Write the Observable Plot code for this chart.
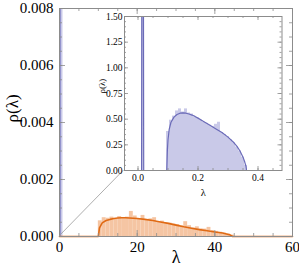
<!DOCTYPE html>
<html><head><meta charset="utf-8">
<script src="https://cdn.jsdelivr.net/npm/d3@7"></script>
<script src="https://cdn.jsdelivr.net/npm/@observablehq/plot@0.6"></script>
<style>
html,body{margin:0;padding:0;background:#fff;}
#wrap{position:relative;width:299px;height:269px;overflow:hidden;}
#wrap svg{position:absolute;overflow:visible;font-family:"Liberation Serif","DejaVu Serif",serif !important;}
#wrap svg text{font-family:"Liberation Serif","DejaVu Serif",serif !important;}
</style></head>
<body><div id="wrap"></div>
<script>
// ---- main plot data ----
const xMajor = [0, 20, 40, 60];
const yMajor = [0, 0.002, 0.004, 0.006, 0.008];
const orangeBinStart = [10,11,12,13,14,15,16,17,18,19,20,21,22,23,24,25,26,27,28,29,30,31,32,33,34,35,36,37,38,39,40,41,42,43,44];
const orangeBinValue = [0.00055,0.00066,0.00064,0.00068,0.00061,0.00070,0.00063,0.00068,0.00088,0.00072,0.00060,0.00074,0.00058,0.00062,0.00066,0.00050,0.00054,0.00048,0.00047,0.00044,0.00042,0.00037,0.00052,0.00038,0.00030,0.00034,0.00027,0.00026,0.00032,0.00021,0.00018,0.00015,0.00012,0.00009,0.00005];
const orangeCurveX = [0,10,10.3,11,12,13,14,15,16,17,18,20,22,24,26,28,30,32,34,36,38,40,42,43,44,44.6,60];
const orangeCurveY = [0,0,0.0003,0.00048,0.00056,0.0006,0.00063,0.00065,0.00066,0.00066,0.00065,0.00063,0.0006,0.00056,0.00051,0.00046,0.0004,0.00034,0.00029,0.00024,0.0002,0.00016,0.00012,0.00009,0.00005,0,0];
const mainSpikeX = [0, 0.9];      // blue spike band near λ = 0
const mainSpikeLineX = [0.1, 0.4];

// ---- inset data ----
const insetXMajor = [0, 0.2, 0.4];
const insetYMajor = [0, 0.25, 0.5, 0.75, 1.0, 1.25, 1.5];
const blueBinStart = [0.095,0.105,0.115,0.125,0.135,0.145,0.155,0.165,0.175,0.185,0.195,0.205,0.215,0.225,0.235,0.245,0.255,0.265,0.275,0.285,0.295,0.305,0.315,0.325,0.335,0.345,0.355];
const blueBinValue = [0.38,0.49,0.53,0.58,0.60,0.57,0.60,0.56,0.55,0.52,0.51,0.49,0.47,0.46,0.44,0.43,0.45,0.47,0.37,0.35,0.33,0.30,0.27,0.23,0.19,0.13,0.05];
const blueCurveX = [0.005,0.012,0.013,0.018,0.019,0.096,0.098,0.100,0.104,0.11,0.12,0.13,0.14,0.15,0.16,0.17,0.18,0.19,0.20,0.22,0.24,0.26,0.28,0.30,0.32,0.33,0.34,0.35,0.355,0.36,0.362,0.48];
const blueCurveY = [0,0,2,2,0,0,0.2,0.3,0.40,0.47,0.52,0.545,0.558,0.562,0.558,0.55,0.54,0.527,0.51,0.475,0.44,0.405,0.37,0.325,0.27,0.235,0.19,0.13,0.09,0.04,0,0];
const blueSpikeBar = [0.012, 0.019];

const orangeFill = "#f5c5a3", orangeLine = "#e06a14";
const blueFill = "#c9c9e8", blueLine = "#6b6bb8";
const frameColor = "#8c8c8c";
const font = "Liberation Serif";

const W = 299, H = 269;
const mL = 59, mR = 7, mT = 8, mB = 33;
const iW = W - mL - mR, iH = H - mT - mB;

function ticksInward(xMaj, xMin, yMaj, yMin, innerW, innerH, Lmaj, Lmin) {
  const o = {stroke: frameColor, strokeWidth: 0.8};
  return [
    Plot.tickX(xMaj, {x: d => d, insetTop: innerH - Lmaj, ...o}),
    Plot.tickX(xMaj, {x: d => d, insetBottom: innerH - Lmaj, ...o}),
    Plot.tickX(xMin, {x: d => d, insetTop: innerH - Lmin, ...o}),
    Plot.tickX(xMin, {x: d => d, insetBottom: innerH - Lmin, ...o}),
    Plot.tickY(yMaj, {y: d => d, insetRight: innerW - Lmaj, ...o}),
    Plot.tickY(yMaj, {y: d => d, insetLeft: innerW - Lmaj, ...o}),
    Plot.tickY(yMin, {y: d => d, insetRight: innerW - Lmin, ...o}),
    Plot.tickY(yMin, {y: d => d, insetLeft: innerW - Lmin, ...o})
  ];
}

const orangeBins = orangeBinStart.map((s, i) => ({x1: s, x2: s + 1, y: orangeBinValue[i]}));
const orangeCurve = orangeCurveX.map((x, i) => ({x, y: orangeCurveY[i]}));

const main = Plot.plot({
  width: W, height: H,
  marginLeft: mL, marginRight: mR, marginTop: mT, marginBottom: mB,
  x: {domain: [0, 60]},
  y: {domain: [0, 0.008]},
  style: {fontFamily: font, fontSize: "15px", color: "#000", background: "transparent", overflow: "visible"},
  marks: [
    Plot.rectY(orangeBins, {x1: "x1", x2: "x2", y: "y", fill: orangeFill}),
    Plot.rect([mainSpikeX], {x1: d => d[0], x2: d => d[1], y1: 0, y2: 0.01, fill: blueFill, clip: true}),
    Plot.rect([mainSpikeLineX], {x1: d => d[0], x2: d => d[1], y1: 0, y2: 0.01, fill: blueLine, clip: true}),
    Plot.line(orangeCurve, {x: "x", y: "y", stroke: orangeLine, strokeWidth: 1.6}),
    Plot.frame({stroke: frameColor, strokeWidth: 1}),
    ...ticksInward(xMajor, d3.range(0, 60.001, 5), yMajor, d3.range(0, 0.00801, 0.0005), iW, iH, 6, 3),
    Plot.axisX({ticks: xMajor, tickSize: 0, tickPadding: 5, label: null, fontSize: 15}),
    Plot.axisY({ticks: yMajor, tickSize: 0, tickPadding: 6, tickFormat: d3.format(".3f"), label: null, fontSize: 15}),
    Plot.text(["ρ(λ)"], {frameAnchor: "left", dx: -47, rotate: -90, fontSize: 17, fill: "#000"}),
    Plot.text(["λ"], {frameAnchor: "bottom", dy: 26, fontSize: 18, fill: "#000"})
  ]
});
main.style.left = "0px"; main.style.top = "0px";
main.setAttribute("font-family", "Liberation Serif");
document.getElementById("wrap").appendChild(main);

// ---- inset ----
const imL = 31, imR = 2, imT = 8, imB = 30;
const insetLeftPx = 92.5, insetTopPx = 8;
const inW = 157.5, inH = 154;
const blueBins = blueBinStart.map((s, i) => ({x1: s, x2: s + 0.01, y: blueBinValue[i]}));
const blueCurve = blueCurveX.map((x, i) => ({x, y: blueCurveY[i]}));

const inset = Plot.plot({
  width: imL + inW + imR, height: imT + inH + imB,
  marginLeft: imL, marginRight: imR, marginTop: imT, marginBottom: imB,
  x: {domain: [-0.045, 0.48]},
  y: {domain: [0, 1.5]},
  style: {fontFamily: font, fontSize: "9.5px", color: "#000", background: "transparent", overflow: "visible"},
  marks: [
    Plot.frame({fill: "white"}),
    Plot.rectY(blueBins, {x1: "x1", x2: "x2", y: "y", fill: blueFill}),
    Plot.rect([blueSpikeBar], {x1: d => d[0], x2: d => d[1], y1: 0, y2: 2, fill: blueFill, clip: true}),
    Plot.line(blueCurve, {x: "x", y: "y", stroke: blueLine, strokeWidth: 1.2, clip: true}),
    Plot.frame({stroke: frameColor, strokeWidth: 1}),
    ...ticksInward(insetXMajor, d3.range(0, 0.4501, 0.05), insetYMajor, d3.range(0, 1.5001, 0.05), inW, inH, 4, 2),
    Plot.axisX({ticks: insetXMajor, tickSize: 0, tickPadding: 4, tickFormat: d3.format(".1f"), label: null, fontSize: 9.5}),
    Plot.axisY({ticks: insetYMajor, tickSize: 0, tickPadding: 2, tickFormat: d3.format(".2f"), label: null, fontSize: 9.5}),
    Plot.text(["ρ(λ)"], {frameAnchor: "left", dx: -22, rotate: -90, fontSize: 9, fill: "#000"}),
    Plot.text(["λ"], {frameAnchor: "bottom", dy: 25, fontSize: 10.5, fill: "#000"})
  ]
});
inset.style.left = insetLeftPx + "px"; inset.style.top = insetTopPx + "px";
inset.setAttribute("font-family", "Liberation Serif");
document.getElementById("wrap").appendChild(inset);

// connector line: main (0,0) to inset's lower-left frame corner
const sx = main.scale("x"), sy = main.scale("y");
const x0 = sx.apply(0), y0 = sy.apply(0);
const cx = insetLeftPx + imL, cy = insetTopPx + imT + inH;
const ns = "http://www.w3.org/2000/svg";
const ln = document.createElementNS(ns, "line");
ln.setAttribute("x1", x0); ln.setAttribute("y1", y0);
ln.setAttribute("x2", cx); ln.setAttribute("y2", cy);
ln.setAttribute("stroke", "#999"); ln.setAttribute("stroke-width", "0.8");
main.appendChild(ln);
</script></body></html>
